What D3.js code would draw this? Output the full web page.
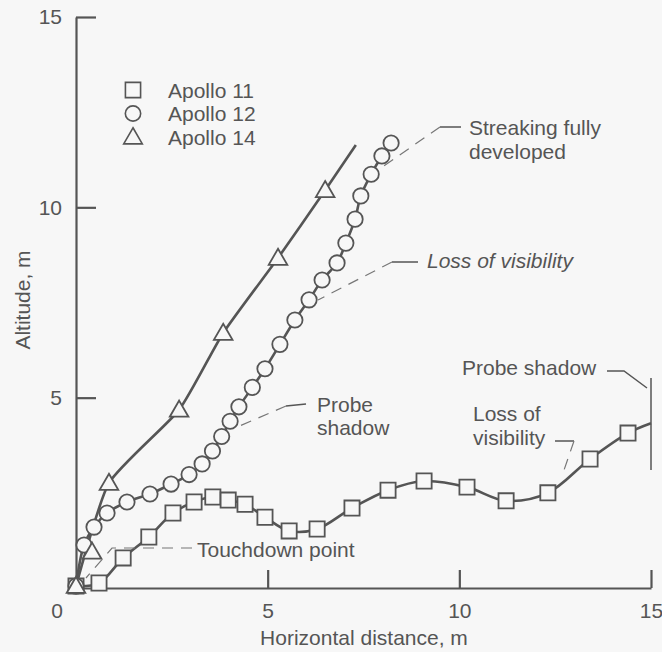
<!DOCTYPE html>
<html>
<head>
<meta charset="utf-8">
<script src="https://cdn.jsdelivr.net/npm/d3@7"></script>
<style>
  html, body { margin: 0; padding: 0; background: #f7f7f7; }
  svg { display: block; }
  text { font-family: "Liberation Sans", Arial, Helvetica, sans-serif; fill: #555; }
</style>
</head>
<body>
<svg id="chart" width="662" height="652"></svg>
<script>
// ---- Data (metres) ----
const seriesNames = ["Apollo 11", "Apollo 12", "Apollo 14"];

const apollo11 = [
  [0, 0.05], [0.6, 0.13], [1.23, 0.79], [1.9, 1.34], [2.53, 1.97], [3.08, 2.26],
  [3.57, 2.39], [3.97, 2.31], [4.41, 2.2], [4.93, 1.86], [5.56, 1.5], [6.29, 1.55],
  [7.2, 2.1], [8.14, 2.57], [9.08, 2.81], [10.2, 2.65], [11.22, 2.29], [12.31, 2.5],
  [13.41, 3.39], [14.4, 4.07]
];
const apollo11LineEnd = [15, 4.33];

const apollo12 = [
  [0, 0.05], [0.21, 1.13], [0.47, 1.6], [0.81, 1.97], [1.33, 2.26], [1.93, 2.47],
  [2.48, 2.73], [2.95, 2.98], [3.29, 3.26], [3.56, 3.6], [3.8, 3.98], [4.02, 4.38],
  [4.25, 4.76], [4.6, 5.27], [4.93, 5.76], [5.32, 6.4], [5.71, 7.04], [6.08, 7.57],
  [6.42, 8.09], [6.81, 8.54], [7.04, 9.06], [7.28, 9.69], [7.43, 10.3], [7.7, 10.87],
  [7.98, 11.35], [8.22, 11.69]
];

const apollo14 = [
  [0, 0.05], [0.42, 0.95], [0.86, 2.76], [2.69, 4.68], [3.84, 6.7], [5.27, 8.67], [6.5, 10.45]
];
// faired curve for Apollo 14 (the 0.42 m point lies off the fairing)
const apollo14Curve = [
  [0, 0.05], [0.86, 2.76], [2.69, 4.68], [3.84, 6.7], [5.27, 8.67], [6.5, 10.45], [7.3, 11.64]
];

const xTicks = [5, 10, 15];
const yTicks = [5, 10, 15];
const xLabel = "Horizontal distance, m";
const yLabel = "Altitude, m";

// ---- Drawing ----
const ink = "#555";
const bg = "#f7f7f7";
const svg = d3.select("#chart");

const x = d3.scaleLinear().domain([0, 15]).range([76, 651]);
const y = d3.scaleLinear().domain([0, 15]).range([588, 17]);

// axes
const yAxis = d3.axisLeft(y).tickValues(yTicks).tickSizeInner(-20).tickSizeOuter(0).tickPadding(14);
const xAxis = d3.axisBottom(x).tickValues(xTicks).tickSizeInner(-18).tickSizeOuter(0).tickPadding(15);

const gy = svg.append("g").attr("transform", `translate(${x(0)},0)`).call(yAxis);
const gx = svg.append("g").attr("transform", `translate(0,${y(0)})`).call(xAxis);
[gx, gy].forEach(g => {
  g.select(".domain").attr("stroke", ink).attr("stroke-width", 2.2);
  g.selectAll(".tick line").attr("stroke", ink).attr("stroke-width", 2.2);
  g.selectAll(".tick text").attr("fill", ink).style("font-size", "21px")
    .style("font-family", '"Liberation Sans", Arial, sans-serif');
});
svg.append("text").attr("x", 57).attr("y", 618).attr("text-anchor", "middle")
  .style("font-size", "21px").text("0");

svg.append("text").attr("x", 364).attr("y", 645).attr("text-anchor", "middle")
  .style("font-size", "21px").text(xLabel);
svg.append("text").attr("transform", "translate(30,300) rotate(-90)")
  .attr("text-anchor", "middle").style("font-size", "21px").text(yLabel);

// lines
const lineCR = d3.line().x(d => x(d[0])).y(d => y(d[1])).curve(d3.curveCatmullRom.alpha(0.5));
const lineCard = d3.line().x(d => x(d[0])).y(d => y(d[1])).curve(d3.curveCardinal.tension(0.45));
const lines = svg.append("g").attr("fill", "none").attr("stroke", ink)
  .attr("stroke-width", 2.6).attr("stroke-linejoin", "round");
lines.append("path").attr("d", lineCR(apollo11.concat([apollo11LineEnd])));
lines.append("path").attr("d", lineCR(apollo12));
lines.append("path").attr("d", lineCard(apollo14Curve));

// markers
const symbols = [d3.symbolSquare, d3.symbolCircle, d3.symbolTriangle];
const symSizes = [230, 185, 150];
const markerSets = [apollo11, apollo12, apollo14];
markerSets.forEach((pts, i) => {
  const sym = d3.symbol().type(symbols[i]).size(symSizes[i]);
  svg.append("g").selectAll("path").data(pts).join("path")
    .attr("transform", d => `translate(${x(d[0])},${y(d[1]) + (i === 2 ? 1.5 : 0)})`)
    .attr("d", sym).attr("fill", bg).attr("stroke", ink).attr("stroke-width", 1.8);
});

// legend
const legend = svg.append("g");
seriesNames.forEach((name, i) => {
  const cy = 90 + i * 23.5;
  legend.append("path").attr("transform", `translate(133,${cy + (i === 2 ? 1.5 : 0)})`)
    .attr("d", d3.symbol().type(symbols[i]).size(symSizes[i])())
    .attr("fill", bg).attr("stroke", ink).attr("stroke-width", 1.6);
  legend.append("text").attr("x", 168).attr("y", cy + 7.5).style("font-size", "21px").text(name);
});

// annotations
const ann = svg.append("g");
function solid(pts) {
  ann.append("path").attr("d", d3.line()(pts)).attr("fill", "none")
    .attr("stroke", ink).attr("stroke-width", 1.5);
}
function dashed(pts) {
  ann.append("path").attr("d", d3.line()(pts)).attr("fill", "none")
    .attr("stroke", "#777").attr("stroke-width", 1.2).attr("stroke-dasharray", "11,8");
}
function label(txt, tx, ty, italic) {
  ann.append("text").attr("x", tx).attr("y", ty).style("font-size", "21px")
    .style("font-style", italic ? "italic" : "normal").text(txt);
}

// Streaking fully developed
solid([[440, 127], [461, 127]]);
dashed([[440, 127], [378, 170]]);
label("Streaking fully", 469, 135);
label("developed", 469, 159);

// Loss of visibility (Apollo 12)
solid([[392, 262], [418, 262]]);
dashed([[392, 262], [318, 300]]);
label("Loss of visibility", 427, 268, true);

// Probe shadow (Apollo 12)
solid([[286, 406], [306, 404]]);
dashed([[286, 406], [235, 428]]);
label("Probe", 317, 412);
label("shadow", 317, 435);

// Touchdown point
dashed([[192, 548], [112, 548], [86, 578]]);
label("Touchdown point", 197, 557);

// Probe shadow (Apollo 11)
solid([[607, 371], [624, 371], [647, 388]]);
solid([[x(15), 378], [x(15), 470]]);
label("Probe shadow", 462, 375);

// Loss of visibility (Apollo 11)
solid([[555, 441], [574, 441]]);
dashed([[574, 441], [563, 473]]);
label("Loss of", 473, 421);
label("visibility", 473, 445);
</script>
</body>
</html>
